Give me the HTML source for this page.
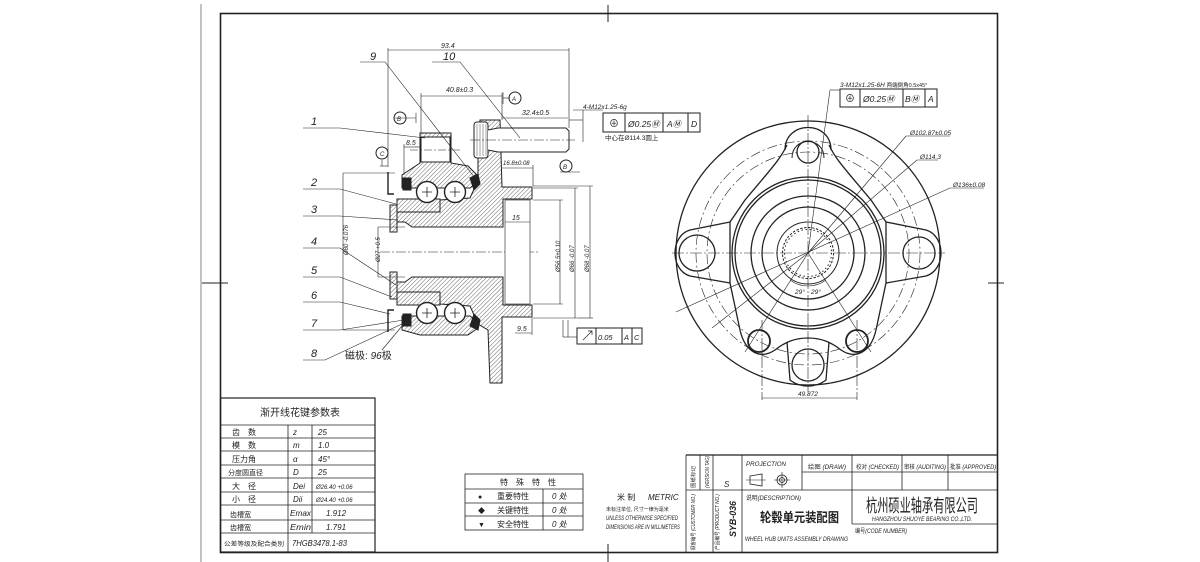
<!DOCTYPE html>
<html><head><meta charset="utf-8"><style>
html,body{margin:0;padding:0;background:#fff}
svg{display:block}
text{font-family:"Liberation Sans","Noto Sans CJK SC",sans-serif;font-style:italic;fill:#222}
.c{font-style:normal}
</style></head><body>
<svg width="1200" height="562" viewBox="0 0 1200 562" xmlns="http://www.w3.org/2000/svg">
<defs>
<pattern id="h" patternUnits="userSpaceOnUse" width="3" height="3" patternTransform="rotate(45)">
<line x1="0" y1="0" x2="0" y2="3" stroke="#444" stroke-width="0.8"/></pattern>
</defs>
<line x1="201" y1="4" x2="201" y2="562" stroke="#999" stroke-width="1.2"/>
<rect x="220.5" y="13.5" width="777" height="539" fill="none" stroke="#222" stroke-width="1.6"/>
<g stroke="#222" stroke-width="1">
<line x1="608" y1="5" x2="608" y2="22"/><line x1="608" y1="544" x2="608" y2="562"/>
<line x1="202" y1="283" x2="228" y2="283"/><line x1="988" y1="283" x2="1004" y2="283"/>
</g>

<!-- LEFT SECTION VIEW -->
<g stroke="#222" stroke-width="1" fill="none">
<line x1="380" y1="252" x2="540" y2="252" stroke-dasharray="10,2,2,2" stroke-width="0.6"/>
<path d="M397,222 L397,212 L440,212 L440,200 L470,198 L478,180 L478,160 L480,120 L500,120 L502,187 L532,187 L532,199 L503,199 L503,227 L412,227 L405,222 Z" fill="url(#h)"/>
<path d="M397,282 L397,292 L440,292 L440,304 L470,306 L478,324 L488,330 L490,383 L502,383 L502,317 L532,317 L532,305 L503,305 L503,277 L412,277 L405,282 Z" fill="url(#h)"/>
<path d="M390,205 L397,205 L397,232 L390,232 Z M390,272 L397,272 L397,299 L390,299 Z" fill="url(#h)"/>
<rect x="397" y="199" width="43" height="13" fill="url(#h)"/>
<rect x="397" y="292" width="43" height="13" fill="url(#h)"/>
<path d="M420,133 L451,133 L451,163 L468,166 L478,176 L478,182 L470,188 L402,188 L402,175 L420,163 Z" fill="url(#h)"/>
<rect x="421" y="137" width="29" height="25" fill="#fff"/>
<path d="M402,316 L470,316 L478,322 L478,328 L468,335 L420,335 L402,330 Z" fill="url(#h)"/>
<circle cx="427" cy="192" r="10.5" fill="#fff" stroke-width="1.4"/>
<circle cx="455" cy="192" r="10.5" fill="#fff" stroke-width="1.4"/>
<circle cx="427" cy="313" r="10.5" fill="#fff" stroke-width="1.4"/>
<circle cx="455" cy="313" r="10.5" fill="#fff" stroke-width="1.4"/>
<path d="M422,192h10M427,187v10M450,192h10M455,187v10M422,313h10M427,308v10M450,313h10M455,308v10" stroke-width="0.8"/>
<rect x="403" y="178" width="8" height="12" fill="#222"/>
<rect x="403" y="314" width="8" height="12" fill="#222"/>
<path d="M470,178 l8,-4 l2,10 l-6,6 Z M470,326 l8,4 l2,-10 l-6,-6 Z" fill="#222"/>
<path d="M388,172 v22 h6 M388,332 v-22 h6" stroke-width="1.4"/>
<rect x="505" y="200" width="25" height="104" fill="#fff" stroke-width="0.6"/>
<rect x="474" y="122" width="14" height="36" rx="3" fill="#fff"/>
<path d="M477,124v32M480,124v32M483,124v32M486,124v32" stroke-width="0.4"/>
<path d="M488,130 L498,128 L566,128 L569,131 L569,149 L566,152 L498,152 L488,150" fill="#fff"/>
<line x1="470" y1="140" x2="575" y2="140" stroke-dasharray="10,2,2,2" stroke-width="0.5"/>
<line x1="410" y1="150" x2="460" y2="150" stroke-dasharray="8,2,2,2" stroke-width="0.5"/>
<g stroke-width="0.6">
<line x1="388" y1="48" x2="388" y2="167"/>
<line x1="388" y1="50" x2="569" y2="50"/><line x1="569" y1="48" x2="569" y2="128"/>
<line x1="421" y1="96" x2="502" y2="96"/><line x1="421" y1="93" x2="421" y2="133"/><line x1="502" y1="93" x2="502" y2="120"/>
<line x1="502" y1="118" x2="568" y2="118"/>
<line x1="343" y1="173" x2="343" y2="330"/><line x1="343" y1="173" x2="395" y2="173"/><line x1="343" y1="330" x2="395" y2="330"/>
<line x1="378" y1="227" x2="378" y2="277"/><line x1="378" y1="227" x2="405" y2="227"/><line x1="378" y1="277" x2="405" y2="277"/>
<line x1="560" y1="200" x2="560" y2="304"/><line x1="533" y1="200" x2="563" y2="200"/><line x1="533" y1="304" x2="563" y2="304"/>
<line x1="575" y1="188" x2="575" y2="318"/><line x1="533" y1="188" x2="578" y2="188"/><line x1="533" y1="318" x2="578" y2="318"/>
<line x1="590" y1="186" x2="590" y2="318"/><line x1="533" y1="186" x2="593" y2="186"/><line x1="578" y1="318" x2="593" y2="318"/>
<line x1="533" y1="165" x2="533" y2="186"/><line x1="502" y1="168" x2="533" y2="168"/>
<line x1="505" y1="222" x2="530" y2="222"/>
<line x1="515" y1="333" x2="532" y2="333"/><line x1="532" y1="318" x2="532" y2="335"/>
<line x1="404" y1="147" x2="420" y2="147"/><line x1="404" y1="144" x2="404" y2="175"/>
<line x1="560" y1="172" x2="580" y2="172"/>
<line x1="380" y1="166" x2="388" y2="166"/><line x1="382" y1="160" x2="382" y2="166"/>
<line x1="394" y1="118" x2="416" y2="118"/><line x1="416" y1="113" x2="416" y2="123"/>
<line x1="503" y1="98" x2="510" y2="98"/><line x1="503" y1="92" x2="503" y2="104"/>
<line x1="569" y1="120" x2="583" y2="120"/><line x1="583" y1="110" x2="583" y2="142"/>
<line x1="573" y1="110" x2="603" y2="110"/>
<line x1="563" y1="320" x2="563" y2="337"/><line x1="563" y1="337" x2="577" y2="337"/><line x1="568" y1="320" x2="568" y2="337"/>
</g>
<circle cx="400" cy="118" r="6"/><circle cx="515" cy="98" r="6"/><circle cx="382" cy="153" r="6"/><circle cx="566" cy="166" r="6"/>
<g stroke-width="0.6">
<path d="M360,62 L385,62 L475,178"/><path d="M432,62 L460,62 L520,138"/>
<path d="M303,128 L340,128 L425,138"/>
<path d="M303,189 L340,189 L396,204"/>
<path d="M303,216 L340,216 L398,220"/>
<path d="M303,248 L340,248 L396,285"/>
<path d="M303,277 L340,277 L392,297"/>
<path d="M303,302 L340,302 L390,314"/>
<path d="M303,330 L340,330 L404,320"/>
<path d="M303,360 L325,360 L402,324"/>
<path d="M382,350 L402,326"/>
</g>
<rect x="603" y="113" width="97" height="19" fill="#fff"/>
<path d="M625,113v19M663,113v19M688,113v19"/>
<rect x="577" y="328" width="65" height="16" fill="#fff"/>
<path d="M596,328v16M622,328v16M632,328v16"/>
<path d="M583,340 l9,-9 M588,331 h4 v4" stroke-width="0.7"/>
</g>
<g font-size="7">
<text x="441" y="48">93.4</text>
<text x="446" y="92">40.8±0.3</text>
<text x="522" y="115">32.4±0.5</text>
<text x="406" y="145">8.5</text>
<text x="503" y="165" font-size="6">16.8±0.08</text>
<text x="512" y="220">15</text>
<text x="517" y="331">9.5</text>
<text x="583" y="109" font-size="6.5">4-M12x1.25-6g</text>
<text x="605" y="140" font-size="6.5" class="c">中心在Ø114.3圆上</text>
<text x="609" y="127" font-size="10" class="c">⊕</text>
<text x="628" y="127" font-size="8.5">Ø0.25Ⓜ</text>
<text x="667" y="127" font-size="8.5">AⓂ</text>
<text x="691" y="127" font-size="8.5">D</text>
<text x="598" y="340" font-size="7.5">0.05</text>
<text x="624" y="340" font-size="7.5">A</text>
<text x="634" y="340" font-size="7.5">C</text>
<text x="397" y="121" font-size="6">B</text><text x="512" y="101" font-size="6">A</text>
<text x="380" y="156" font-size="6">C</text><text x="563" y="169" font-size="6">B</text>
<text x="348" y="255" font-size="6" transform="rotate(-90 348 255)">Ø80 -0.076</text>
<text x="380" y="262" font-size="6" transform="rotate(-90 380 262)">Ø27 +0.5</text>
<text x="560" y="272" font-size="6" transform="rotate(-90 560 272)">Ø56.5±0.10</text>
<text x="574" y="272" font-size="6" transform="rotate(-90 574 272)">Ø66 -0.07</text>
<text x="589" y="272" font-size="6" transform="rotate(-90 589 272)">Ø68 -0.07</text>
</g>
<g font-size="11">
<text x="370" y="60">9</text><text x="443" y="60">10</text>
<text x="311" y="125">1</text><text x="311" y="186">2</text><text x="311" y="213">3</text>
<text x="311" y="245">4</text><text x="311" y="274">5</text><text x="311" y="299">6</text>
<text x="311" y="327">7</text><text x="311" y="357">8</text>
<text x="345" y="359" font-size="10" class="c">磁极: <tspan font-style="italic">96</tspan>极</text>
</g>

<!-- RIGHT FRONT VIEW -->
<g stroke="#222" fill="none">
<circle cx="808" cy="253" r="132" stroke-width="1.3"/>
<circle cx="808" cy="253" r="112" stroke-width="0.6" stroke-dasharray="10,3,2,3"/>
<circle cx="808" cy="253" r="101" stroke-width="0.6" stroke-dasharray="10,3,2,3"/>
<path d="M787,145 C780,160 770,170 745,200 L730,222 L730,283 L740,330 C745,352 760,360 775,350 C785,342 795,338 808,338 C821,338 831,342 841,350 C856,360 871,352 876,330 L886,283 L886,222 L871,200 C846,170 836,160 829,145" stroke-width="1.3"/>
<path d="M785,150 C785,120 831,120 831,150" stroke-width="1.3"/>
<path d="M792,158 C792,136 824,136 824,158" stroke-width="1"/>
<path d="M730,222 L690,230 C670,236 670,270 690,276 L730,283" stroke-width="1.3"/>
<path d="M886,222 L926,230 C946,236 946,270 926,276 L886,283" stroke-width="1.3"/>
<path d="M787,342 L790,380 C800,388 816,388 826,380 L829,342" stroke-width="1.3"/>
<circle cx="808" cy="152" r="11" stroke-width="1.3"/>
<circle cx="759" cy="341" r="11" stroke-width="1.8"/>
<circle cx="857" cy="341" r="11" stroke-width="1.8"/>
<circle cx="697" cy="253" r="18" stroke-width="1.3"/>
<circle cx="919" cy="253" r="16" stroke-width="1.3"/>
<circle cx="808" cy="365" r="16" stroke-width="1.3"/>
<circle cx="808" cy="253" r="76" stroke-width="1.3"/>
<circle cx="808" cy="253" r="73" stroke-width="1.3"/>
<circle cx="808" cy="253" r="57" stroke-width="1.3"/>
<circle cx="808" cy="253" r="46" stroke-width="1.3"/>
<circle cx="808" cy="253" r="31" stroke-width="1"/>
<circle cx="808" cy="253" r="25.5" stroke-width="1" stroke-dasharray="2.5,1.5"/>
<circle cx="808" cy="253" r="23.5" stroke-width="1" stroke-dasharray="1.5,2.5"/>
<g stroke-width="0.6" stroke-dasharray="12,2,2,2">
<line x1="672" y1="253" x2="945" y2="253"/><line x1="808" y1="115" x2="808" y2="392"/>
<line x1="762" y1="320" x2="762" y2="400"/><line x1="857" y1="320" x2="857" y2="400"/>
</g>
<g stroke-width="0.6">
<line x1="808" y1="253" x2="745" y2="352"/><line x1="808" y1="253" x2="871" y2="352"/>
<line x1="808" y1="253" x2="830" y2="90"/><line x1="830" y1="90" x2="840" y2="90"/>
<line x1="808" y1="253" x2="906" y2="136"/><line x1="906" y1="136" x2="950" y2="136"/>
<line x1="808" y1="253" x2="917" y2="160"/><line x1="917" y1="160" x2="938" y2="160"/>
<line x1="676" y1="312" x2="950" y2="188"/><line x1="950" y1="188" x2="984" y2="188"/>
<line x1="712" y1="328" x2="808" y2="253"/>
<line x1="762" y1="398" x2="857" y2="398"/>
<path d="M790,280 A30,30 0 0 0 826,280"/>
</g>
<rect x="840" y="89" width="97" height="18" fill="#fff" stroke-width="1"/>
<path d="M860,89v18M903,89v18M925,89v18" stroke-width="1"/>
</g>
<g font-size="6.5">
<text x="840" y="87">3-M12x1.25-6H <tspan class="c" font-size="5.5">两端倒角0.5x45°</tspan></text>
<text x="845" y="102" font-size="10" class="c">⊕</text>
<text x="863" y="102" font-size="8.5">Ø0.25Ⓜ</text>
<text x="905" y="102" font-size="8.5">BⓂ</text>
<text x="928" y="102" font-size="8.5">A</text>
<text x="910" y="135">Ø102.87±0.05</text>
<text x="920" y="159">Ø114.3</text>
<text x="953" y="187">Ø136±0.08</text>
<text x="795" y="294">29°</text><text x="811" y="294">29°</text>
<text x="798" y="396">49.872</text>
</g>

<!-- LEFT TABLE -->
<g stroke="#222" fill="none">
<rect x="220.5" y="398" width="154.5" height="154" stroke-width="1.2"/>
<path d="M220,425H375M220,438H375M220,451H375M220,465H375M220,478H375M220,492H375M220,505H375M220,520H375M220,533H375" stroke-width="0.8"/>
<path d="M288,425V552M312,425V533" stroke-width="0.8"/>
</g>
<g font-size="8">
<text x="260" y="416" font-size="10" class="c">渐开线花键参数表</text>
<text x="232" y="435" class="c">齿　数</text><text x="293" y="435">z</text><text x="318" y="435">25</text>
<text x="232" y="448" class="c">模　数</text><text x="293" y="448">m</text><text x="318" y="448">1.0</text>
<text x="232" y="462" class="c">压力角</text><text x="293" y="462">α</text><text x="318" y="462">45°</text>
<text x="228" y="475" class="c" font-size="7">分度圆直径</text><text x="293" y="475">D</text><text x="318" y="475">25</text>
<text x="232" y="489" class="c">大　径</text><text x="293" y="489">Dei</text><text x="316" y="489" font-size="6">Ø26.40 +0.06</text>
<text x="232" y="502" class="c">小　径</text><text x="293" y="502">Dii</text><text x="316" y="502" font-size="6">Ø24.40 +0.06</text>
<text x="230" y="517" class="c" font-size="7">齿槽宽</text><text x="290" y="516" textLength="21" lengthAdjust="spacingAndGlyphs">Emax</text><text x="326" y="516">1.912</text>
<text x="230" y="530" class="c" font-size="7">齿槽宽</text><text x="290" y="530" textLength="21" lengthAdjust="spacingAndGlyphs">Emin</text><text x="326" y="530">1.791</text>
<text x="224" y="546" class="c" font-size="6" textLength="60" lengthAdjust="spacingAndGlyphs">公差等级及配合类别</text><text x="292" y="546" textLength="55" lengthAdjust="spacingAndGlyphs">7HGB3478.1-83</text>
</g>

<!-- SPECIAL TABLE -->
<g stroke="#222" fill="none" stroke-width="0.8">
<rect x="465" y="474" width="118" height="56"/>
<path d="M465,489H583M465,503H583M465,516H583M543,489V530"/>
</g>
<g font-size="8">
<text x="500" y="485" class="c">特　殊　特　性</text>
<text x="478" y="499" class="c" font-size="7">●</text><text x="497" y="499" class="c">重要特性</text><text x="552" y="499">0 处</text>
<text x="478" y="513" class="c" font-size="7">◆</text><text x="497" y="513" class="c">关键特性</text><text x="552" y="513">0 处</text>
<text x="478" y="527" class="c" font-size="7">▼</text><text x="497" y="527" class="c">安全特性</text><text x="552" y="527">0 处</text>
</g>
<g font-size="6">
<text x="617" y="500" font-size="8" class="c">米 制</text><text x="648" y="500" font-size="8">METRIC</text>
<text x="606" y="511" class="c" font-size="5">未标注单位, 尺寸一律为毫米</text>
<text x="606" y="520" textLength="72" lengthAdjust="spacingAndGlyphs">UNLESS OTHERWISE SPECIFIED</text>
<text x="606" y="529" textLength="74" lengthAdjust="spacingAndGlyphs">DIMENSIONS ARE IN MILLIMETERS</text>
</g>

<!-- TITLE BLOCK -->
<g stroke="#222" fill="none" stroke-width="0.8">
<path d="M686,455H998" stroke-width="1.2"/>
<path d="M686,455V552M700,455V490M713,455V552M742,455V552M802,455V490M852,455V524M902,455V490M948,455V490"/>
<path d="M686,490H998M802,472H998M852,524H998"/>
<path d="M750,476 L762,474 L762,486 L750,484 Z"/>
<path d="M746,480h20" stroke-width="0.6"/>
<circle cx="782" cy="480" r="5"/><circle cx="782" cy="480" r="2.5"/>
<path d="M774,480h16M782,472v16" stroke-width="0.6"/>
</g>
<g font-size="6">
<text x="746" y="466" textLength="40" lengthAdjust="spacingAndGlyphs">PROJECTION</text>
<text x="808" y="469" textLength="38" lengthAdjust="spacingAndGlyphs"><tspan class="c">绘图</tspan> (DRAW)</text>
<text x="856" y="469" textLength="43" lengthAdjust="spacingAndGlyphs"><tspan class="c">校对</tspan> (CHECKED)</text>
<text x="904" y="469" textLength="42" lengthAdjust="spacingAndGlyphs"><tspan class="c">审核</tspan> (AUDITING)</text>
<text x="950" y="469" textLength="46" lengthAdjust="spacingAndGlyphs"><tspan class="c">批准</tspan> (APPROVED)</text>
<text x="724" y="487" font-size="8">S</text>
<text x="746" y="500" textLength="55" lengthAdjust="spacingAndGlyphs"><tspan class="c">说明</tspan>(DESCRIPTION)</text>
<text x="760" y="522" font-size="13" class="c" font-weight="bold" textLength="79" lengthAdjust="spacingAndGlyphs">轮毂单元装配图</text>
<text x="745" y="541" textLength="103" lengthAdjust="spacingAndGlyphs">WHEEL HUB UNITS ASSEMBLY DRAWING</text>
<text x="866" y="512" font-size="18" class="c" textLength="112" lengthAdjust="spacingAndGlyphs">杭州硕业轴承有限公司</text>
<text x="872" y="521" font-size="6" textLength="100" lengthAdjust="spacingAndGlyphs">HANGZHOU SHUOYE BEARING CO.,LTD.</text>
<text x="855" y="533" textLength="52" lengthAdjust="spacingAndGlyphs"><tspan class="c">编号</tspan>(CODE NUMBER)</text>
<text x="695" y="488" transform="rotate(-90 695 488)" font-size="5" class="c" textLength="22" lengthAdjust="spacingAndGlyphs">图纸标记</text>
<text x="709" y="488" transform="rotate(-90 709 488)" font-size="5" textLength="32" lengthAdjust="spacingAndGlyphs">(VERSION TAG)</text>
<text x="695" y="550" transform="rotate(-90 695 550)" font-size="5" textLength="56" lengthAdjust="spacingAndGlyphs"><tspan class="c">顾客编号</tspan> (CUSTOMER NO.)</text>
<text x="719" y="550" transform="rotate(-90 719 550)" font-size="5" textLength="56" lengthAdjust="spacingAndGlyphs"><tspan class="c">产品编号</tspan> (PRODUCT NO.)</text>
<text x="736" y="537" transform="rotate(-90 736 537)" font-size="9" font-weight="bold" textLength="36" lengthAdjust="spacingAndGlyphs">SYB-036</text>
</g>
</svg>
</body></html>
